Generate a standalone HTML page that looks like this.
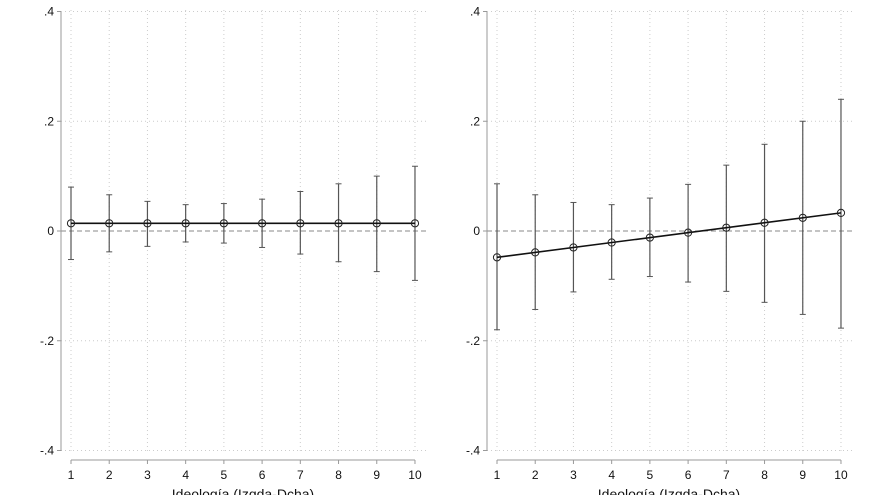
<!DOCTYPE html><html><head><style>body{margin:0;background:#fff}svg{display:block}text{font-family:"Liberation Sans",sans-serif;font-size:12px;fill:#111}</style></head><body>
<svg width="880" height="495" xmlns="http://www.w3.org/2000/svg" id="s"></svg>
<script>
const s=document.getElementById('s');let h='';
const Y=v=>231-v*548.75;
function panel(ax,x0,pts){
  const X=i=>x0+(i-1)*38.22;
  for(let i=1;i<=10;i++)h+=`<line x1="${X(i)}" y1="10" x2="${X(i)}" y2="453" stroke="#ccc" stroke-dasharray="1,3"/>`;
  for(const v of [.4,.2,-.2,-.4])h+=`<line x1="${ax}" y1="${Y(v)}" x2="${x0+355}" y2="${Y(v)}" stroke="#ccc" stroke-dasharray="1,3"/>`;
  h+=`<line x1="${ax}" y1="231" x2="${x0+355}" y2="231" stroke="#888" stroke-dasharray="5,3"/>`;
  h+=`<line x1="${ax}" y1="12" x2="${ax}" y2="451" stroke="#999"/>`;
  for(const [v,l] of [[.4,'.4'],[.2,'.2'],[0,'0'],[-.2,'-.2'],[-.4,'-.4']]){h+=`<line x1="${ax-4}" y1="${Y(v)}" x2="${ax}" y2="${Y(v)}" stroke="#999"/><text x="${ax-7}" y="${Y(v)+4}" text-anchor="end">${l}</text>`;}
  h+=`<line x1="${X(1)}" y1="460" x2="${X(10)}" y2="460" stroke="#999"/>`;
  for(let i=1;i<=10;i++)h+=`<line x1="${X(i)}" y1="460" x2="${X(i)}" y2="464" stroke="#999"/><text x="${X(i)}" y="479" text-anchor="middle">${i}</text>`;
  h+=`<text x="${(X(1)+X(10))/2}" y="499" text-anchor="middle" style="font-size:14px">Ideología (Izqda-Dcha)</text>`;
  pts.forEach((p,k)=>{const x=X(k+1);h+=`<line x1="${x}" y1="${Y(p[1])}" x2="${x}" y2="${Y(p[2])}" stroke="#555" stroke-width="1.2"/><line x1="${x-3}" y1="${Y(p[1])}" x2="${x+3}" y2="${Y(p[1])}" stroke="#555"/><line x1="${x-3}" y1="${Y(p[2])}" x2="${x+3}" y2="${Y(p[2])}" stroke="#555"/>`;});
  h+=`<line x1="${X(1)}" y1="${Y(pts[0][0])}" x2="${X(10)}" y2="${Y(pts[9][0])}" stroke="#111" stroke-width="1.6"/>`;
  pts.forEach((p,k)=>{h+=`<circle cx="${X(k+1)}" cy="${Y(p[0])}" r="3.6" fill="none" stroke="#222" stroke-width="1"/>`;});
}
const L=[[.08,-.052],[.066,-.038],[.054,-.028],[.048,-.02],[.05,-.022],[.058,-.03],[.072,-.042],[.086,-.056],[.1,-.074],[.118,-.09]].map(a=>[.014,a[0],a[1]]);
const R=[[.086,-.18],[.066,-.143],[.052,-.111],[.048,-.088],[.06,-.083],[.085,-.093],[.12,-.11],[.158,-.13],[.2,-.152],[.24,-.177]].map((a,i)=>[-.048+.009*i,a[0],a[1]]);
panel(61,71,L);panel(487,497,R);
s.innerHTML=h;
</script></body></html>
